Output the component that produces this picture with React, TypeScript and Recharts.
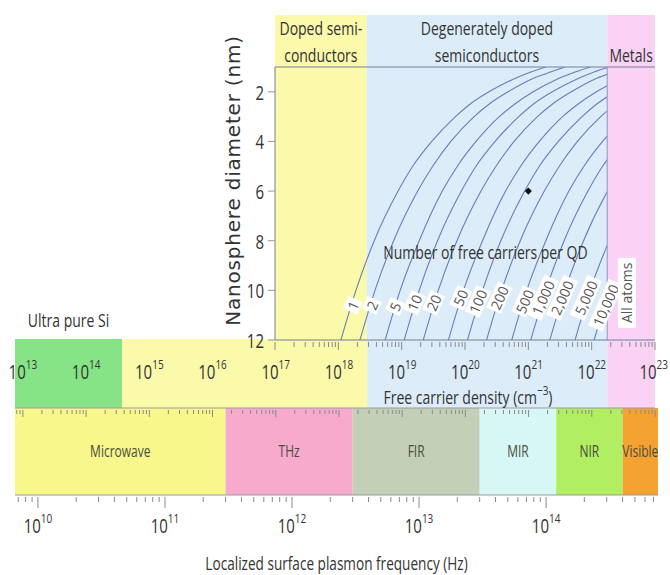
import React from "react";
import {
  ComposedChart,
  Label,
  Line,
  ReferenceArea,
  ReferenceLine,
  Scatter,
  XAxis,
  YAxis,
} from "recharts";

const FONT = "'Open Sans', 'DejaVu Sans Condensed', sans-serif";
const TITLE_FONT = "'DejaVu Sans', Verdana, sans-serif";
const STRETCH = 1.3; // the source figure's lettering is tall and narrow
const INK = "#333";
const CURVE = "#6a7cb8";
const FRAME = "#70809a";

// ---- free carrier density classes (cm^-3) ----
const DENSITY_CLASSES = ["Ultra pure Si", "Doped semiconductors", "Degenerately doped semiconductors", "Metals"];
const DENSITY_HEADERS = [[], ["Doped semi-", "conductors"], ["Degenerately doped", "semiconductors"], ["", "Metals"]];
const DENSITY_EDGES = [7.5e12, 3.7e14, 2.8e18, 1.76e22, 1e23];
const DENSITY_COLORS = ["#86e486", "#fbf9aa", "#dcedf9", "#fad2f6"];
const TOP_PANEL_MIN = 1e17;

// ---- plasmon frequency bands (Hz) ----
const SPECTRUM_NAMES = ["Microwave", "THz", "FIR", "MIR", "NIR", "Visible"];
const SPECTRUM_EDGES = [6.6e9, 3e11, 3e12, 3e13, 1.2e14, 4e14, 7.6e14];
const SPECTRUM_COLORS = ["#f8f78c", "#f7aacb", "#c4cfb8", "#d6f7f6", "#b1ee62", "#f4a232"];

// ---- ticks ----
const MANTISSAS = [1, 2, 3, 4, 5, 6, 7, 8, 9];
const DENSITY_DECADES = [12, 13, 14, 15, 16, 17, 18, 19, 20, 21, 22, 23];
const FREQ_DECADES = [9, 10, 11, 12, 13, 14];
const DIAMETER_TICKS = [2, 4, 6, 8, 10, 12];

// ---- iso-carrier curves: density (cm^-3) read at each diameter (nm) ----
const DIAMETERS_NM = [12, 10, 8, 6, 5, 4, 3, 2.5, 2, 1.5, 1.25, 1];
const CARRIERS_PER_QD = [1, 2, 5, 10, 20, 50, 100, 200, 500, 1000, 2000, 5000, 10000];
const CURVE_DENSITY: (number | null)[][] = [
  [1.1e18, 1.9e18, 3.7e18, 8.8e18, 1.5e19, 3.0e19, 7.1e19, 1.2e20, 2.4e20, 5.7e20, 9.8e20, 1.9e21],
  [2.2e18, 3.8e18, 7.5e18, 1.8e19, 3.1e19, 6.0e19, 1.4e20, 2.4e20, 4.8e20, 1.1e21, 2.0e21, 3.8e21],
  [5.5e18, 9.5e18, 1.9e19, 4.4e19, 7.6e19, 1.5e20, 3.5e20, 6.1e20, 1.2e21, 2.8e21, 4.9e21, 9.6e21],
  [1.1e19, 1.9e19, 3.7e19, 8.8e19, 1.5e20, 3.0e20, 7.1e20, 1.2e21, 2.4e21, 5.7e21, 9.8e21, 1.9e22],
  [2.2e19, 3.8e19, 7.5e19, 1.8e20, 3.1e20, 6.0e20, 1.4e21, 2.4e21, 4.8e21, 1.1e22, 2.0e22, null],
  [5.5e19, 9.5e19, 1.9e20, 4.4e20, 7.6e20, 1.5e21, 3.5e21, 6.1e21, 1.2e22, 2.8e22, null, null],
  [1.1e20, 1.9e20, 3.7e20, 8.8e20, 1.5e21, 3.0e21, 7.1e21, 1.2e22, 2.4e22, null, null, null],
  [2.2e20, 3.8e20, 7.5e20, 1.8e21, 3.1e21, 6.0e21, 1.4e22, 2.4e22, null, null, null, null],
  [5.5e20, 9.5e20, 1.9e21, 4.4e21, 7.6e21, 1.5e22, 3.5e22, null, null, null, null, null],
  [1.1e21, 1.9e21, 3.7e21, 8.8e21, 1.5e22, 3.0e22, null, null, null, null, null, null],
  [2.2e21, 3.8e21, 7.5e21, 1.8e22, 3.1e22, null, null, null, null, null, null, null],
  [5.5e21, 9.5e21, 1.9e22, null, null, null, null, null, null, null, null, null],
  [1.1e22, 1.9e22, 3.7e22, null, null, null, null, null, null, null, null, null],
];
// where each curve's number tag sits
const TAG_DENSITY = [1.7e18, 3.4e18, 7.9e18, 1.6e19, 3.2e19, 8.5e19, 1.6e20, 3.5e20, 8.7e20, 1.7e21, 3.4e21, 8.1e21, 1.66e22];
const TAG_DIAMETER = [10.6, 10.6, 10.65, 10.5, 10.5, 10.3, 10.45, 10.3, 10.45, 10.3, 10.3, 10.3, 10.6];
const MARKER = [{ n: 1e21, d: 6 }];
const NOTES = [
  { n: 2.1e20, d: 8.45, text: "Number of free carriers per QD", vertical: false },
  { n: 3.6e22, d: 10.1, text: "All atoms", vertical: true },
];

function logTicks(decades: number[], lo: number, hi: number) {
  return decades
    .flatMap((e) => MANTISSAS.map((m) => m * 10 ** e))
    .filter((v) => v >= lo * 0.999 && v <= hi * 1.001);
}

const topTicks = logTicks(DENSITY_DECADES, TOP_PANEL_MIN, DENSITY_EDGES[4]);
const bandTicks = logTicks(DENSITY_DECADES, DENSITY_EDGES[0], DENSITY_EDGES[4]);
const freqTicks = logTicks(FREQ_DECADES, SPECTRUM_EDGES[0], SPECTRUM_EDGES[6]);

const curves = CURVE_DENSITY.map((row) =>
  row.flatMap((n, i) => (n == null ? [] : [{ n, d: DIAMETERS_NM[i] }]))
);
const tags = CARRIERS_PER_QD.map((c, i) => ({
  n: TAG_DENSITY[i],
  d: TAG_DIAMETER[i],
  text: c.toLocaleString("en-US"),
}));

// text centred on (x, y), stretched vertically like the source lettering
function SText({ x, y, size, anchor = "middle", fill = INK, children }: any) {
  return (
    <text
      transform={`translate(${x},${y}) scale(1,${STRETCH})`}
      textAnchor={anchor}
      dominantBaseline="central"
      fontSize={size}
      fontFamily={FONT}
      fill={fill}
    >
      {children}
    </text>
  );
}

function Power({ exp }: { exp: number }) {
  return (
    <>
      10
      <tspan fontSize={10} dy={-6}>
        {exp}
      </tspan>
    </>
  );
}

function LogTick(props: any) {
  const { x, y, payload, majorLen, minorLen, labelDy, last } = props;
  const lg = Math.log10(payload.value);
  const exp = Math.round(lg);
  const major = Math.abs(lg - exp) < 1e-6;
  const atEnd = last != null && Math.abs(payload.value / last - 1) < 1e-6;
  return (
    <g>
      <line x1={x} x2={x} y1={y} y2={y + (major ? majorLen : minorLen)} stroke="#8a8a8a" />
      {major && labelDy != null && (
        <SText x={atEnd ? x + 13 : x} y={y + labelDy} size={15} anchor={atEnd ? "end" : "middle"}>
          <Power exp={exp} />
        </SText>
      )}
    </g>
  );
}

function DiameterTick(props: any) {
  const { x, y, payload } = props;
  return (
    <SText x={x} y={y} size={15} anchor="end">
      {payload.value}
    </SText>
  );
}

function HeaderText(props: any) {
  const { viewBox, lines } = props;
  if (!viewBox) return null;
  const cx = viewBox.x + viewBox.width / 2;
  return (
    <g>
      {lines.map((s: string, i: number) => (
        <SText key={i} x={cx} y={viewBox.y + 13 + i * 27} size={14}>
          {s}
        </SText>
      ))}
    </g>
  );
}

function BandName(props: any) {
  const { viewBox, name, above } = props;
  if (!viewBox) return null;
  const cx = viewBox.x + viewBox.width / 2;
  if (above) {
    return (
      <SText x={cx} y={viewBox.y - 19} size={14}>
        {name}
      </SText>
    );
  }
  return (
    <SText x={cx} y={viewBox.y + viewBox.height / 2 - 1} size={12} fill="#4a4d3c">
      {name}
    </SText>
  );
}

function CurveTag(props: any) {
  const { cx, cy, payload } = props;
  const w = payload.text.length * 7.5 + 6;
  return (
    <g transform={`translate(${cx},${cy}) rotate(-66)`}>
      <rect x={-w / 2} y={-8} width={w} height={16} fill="#fff" />
      <text textAnchor="middle" dominantBaseline="central" fontSize={14} fill="#555" fontFamily={FONT}>
        {payload.text}
      </text>
    </g>
  );
}

function NoteText(props: any) {
  const { cx, cy, payload } = props;
  if (payload.vertical) {
    return (
      <g transform={`translate(${cx},${cy}) rotate(-90)`}>
        <rect x={-35} y={-9} width={70} height={18} fill="#fff" />
        <text textAnchor="middle" dominantBaseline="central" fontSize={14} fill="#555" fontFamily={FONT}>
          {payload.text}
        </text>
      </g>
    );
  }
  return (
    <SText x={cx} y={cy} size={14}>
      {payload.text}
    </SText>
  );
}

function MarkerDot(props: any) {
  const { cx, cy } = props;
  return <rect x={cx - 2.5} y={cy - 2.5} width={5} height={5} fill="#111" transform={`rotate(45 ${cx} ${cy})`} />;
}

function DensityTitle(props: any) {
  const { cx, cy } = props;
  return (
    <SText x={cx} y={cy} size={14}>
      Free carrier density (cm
      <tspan fontSize={10} dy={-6}>
        −3
      </tspan>
      <tspan dy={6}>)</tspan>
    </SText>
  );
}

function Layer({ left, top, children }: { left: number; top: number; children: React.ReactNode }) {
  return <div style={{ position: "absolute", left, top }}>{children}</div>;
}

export default function App() {
  return (
    <div
      style={{
        position: "absolute",
        left: 0,
        top: 0,
        width: 670,
        height: 575,
        background: "#fff",
        fontFamily: FONT,
        overflow: "hidden",
      }}
    >
      {/* spectral regions of the plasmon frequency */}
      <Layer left={0} top={400}>
        <ComposedChart width={670} height={175} margin={{ top: 8, right: 12, bottom: 0, left: 15 }}>
          <XAxis
            type="number"
            dataKey="f"
            scale="log"
            domain={[SPECTRUM_EDGES[0], SPECTRUM_EDGES[6]]}
            allowDataOverflow
            ticks={freqTicks}
            interval={0}
            tickLine={false}
            tickSize={0}
            height={80}
            axisLine={{ stroke: "#9a9a9a" }}
            tick={<LogTick majorLen={11} minorLen={5} labelDy={28} />}
          >
            <Label
              content={(p: any) => (
                <SText x={p.viewBox.x + p.viewBox.width / 2} y={p.viewBox.y + 68} size={13.6}>
                  Localized surface plasmon frequency (Hz)
                </SText>
              )}
            />
          </XAxis>
          <YAxis type="number" domain={[0, 1]} allowDataOverflow hide />
          {SPECTRUM_NAMES.map((name, i) => (
            <ReferenceArea
              key={name}
              x1={SPECTRUM_EDGES[i]}
              x2={SPECTRUM_EDGES[i + 1]}
              fill={SPECTRUM_COLORS[i]}
              fillOpacity={1}
              stroke="none"
              ifOverflow="visible"
              label={<BandName name={name} />}
            />
          ))}
        </ComposedChart>
      </Layer>

      {/* free carrier density strip */}
      <Layer left={0} top={300}>
        <ComposedChart width={670} height={130} margin={{ top: 39, right: 15, bottom: 0, left: 15 }}>
          <XAxis
            type="number"
            dataKey="n"
            scale="log"
            domain={[DENSITY_EDGES[0], DENSITY_EDGES[4]]}
            allowDataOverflow
            ticks={bandTicks}
            interval={0}
            tickLine={false}
            tickSize={0}
            height={22}
            axisLine={{ stroke: "#9a9a9a" }}
            tick={<LogTick majorLen={7} minorLen={4} labelDy={-39} last={DENSITY_EDGES[4]} />}
          />
          <YAxis type="number" dataKey="y" domain={[0, 1]} allowDataOverflow hide />
          {DENSITY_CLASSES.map((name, i) => (
            <ReferenceArea
              key={name}
              x1={DENSITY_EDGES[i]}
              x2={DENSITY_EDGES[i + 1]}
              fill={DENSITY_COLORS[i]}
              fillOpacity={1}
              stroke="none"
              ifOverflow="visible"
              label={i === 0 ? <BandName name={name} above /> : undefined}
            />
          ))}
          <Scatter data={[{ n: 1.1e20, y: 0.15 }]} shape={DensityTitle} isAnimationActive={false} />
        </ComposedChart>
      </Layer>

      {/* shading of the top panel and its headers */}
      <Layer left={275} top={15}>
        <ComposedChart width={380} height={325} margin={{ top: 0, right: 0, bottom: 0, left: 0 }}>
          <XAxis
            type="number"
            dataKey="n"
            scale="log"
            domain={[TOP_PANEL_MIN, DENSITY_EDGES[4]]}
            allowDataOverflow
            height={0}
            tick={false}
            tickLine={false}
            axisLine={false}
          />
          <YAxis type="number" dataKey="y" domain={[0, 1]} allowDataOverflow hide />
          {DENSITY_CLASSES.map((name, i) =>
            DENSITY_EDGES[i + 1] <= TOP_PANEL_MIN ? null : (
              <ReferenceArea
                key={name}
                x1={Math.max(DENSITY_EDGES[i], TOP_PANEL_MIN)}
                x2={DENSITY_EDGES[i + 1]}
                fill={DENSITY_COLORS[i]}
                fillOpacity={1}
                stroke="none"
                ifOverflow="visible"
                label={<HeaderText lines={DENSITY_HEADERS[i]} />}
              />
            )
          )}
        </ComposedChart>
      </Layer>

      {/* iso-carrier curves, clipped at the metals boundary */}
      <Layer left={275} top={67}>
        <ComposedChart width={332} height={273} margin={{ top: 0, right: 0, bottom: 0, left: 0 }}>
          <XAxis type="number" dataKey="n" scale="log" domain={[TOP_PANEL_MIN, DENSITY_EDGES[3]]} allowDataOverflow hide />
          <YAxis type="number" domain={[1, 12]} reversed allowDataOverflow hide />
          {curves.map((data, i) => (
            <Line
              key={CARRIERS_PER_QD[i]}
              data={data}
              dataKey="d"
              type="monotone"
              stroke={CURVE}
              strokeWidth={1.1}
              dot={false}
              isAnimationActive={false}
            />
          ))}
        </ComposedChart>
      </Layer>

      {/* axes, tags and notes of the top panel */}
      <Layer left={195} top={0}>
        <ComposedChart width={475} height={370} margin={{ top: 67, right: 15, bottom: 20, left: 20 }}>
          <XAxis
            type="number"
            dataKey="n"
            scale="log"
            domain={[TOP_PANEL_MIN, DENSITY_EDGES[4]]}
            allowDataOverflow
            ticks={topTicks}
            interval={0}
            tickLine={false}
            tickSize={0}
            height={10}
            axisLine={{ stroke: FRAME }}
            tick={<LogTick majorLen={8} minorLen={5} />}
          />
          <YAxis
            type="number"
            dataKey="d"
            domain={[1, 12]}
            reversed
            allowDataOverflow
            ticks={DIAMETER_TICKS}
            width={60}
            tickSize={7}
            tickMargin={4}
            axisLine={{ stroke: FRAME }}
            tickLine={{ stroke: "#999" }}
            tick={<DiameterTick />}
          >
            <Label
              content={(p: any) => {
                const vb = p.viewBox;
                const cx = vb.x + 18;
                const cy = vb.y + vb.height / 2 - 23;
                return (
                  <text
                    x={cx}
                    y={cy}
                    transform={`rotate(-90 ${cx} ${cy})`}
                    textAnchor="middle"
                    dominantBaseline="central"
                    fill={INK}
                    fontSize={20}
                    letterSpacing={0.8}
                    fontFamily={TITLE_FONT}
                  >
                    Nanosphere diameter (nm)
                  </text>
                );
              }}
            />
          </YAxis>
          <ReferenceLine y={1} stroke={FRAME} ifOverflow="visible" />
          <ReferenceLine x={DENSITY_EDGES[3]} stroke="#8c97c6" ifOverflow="visible" />
          <Scatter data={tags} shape={CurveTag} isAnimationActive={false} />
          <Scatter data={NOTES} shape={NoteText} isAnimationActive={false} />
          <Scatter data={MARKER} shape={MarkerDot} isAnimationActive={false} />
        </ComposedChart>
      </Layer>
    </div>
  );
}
